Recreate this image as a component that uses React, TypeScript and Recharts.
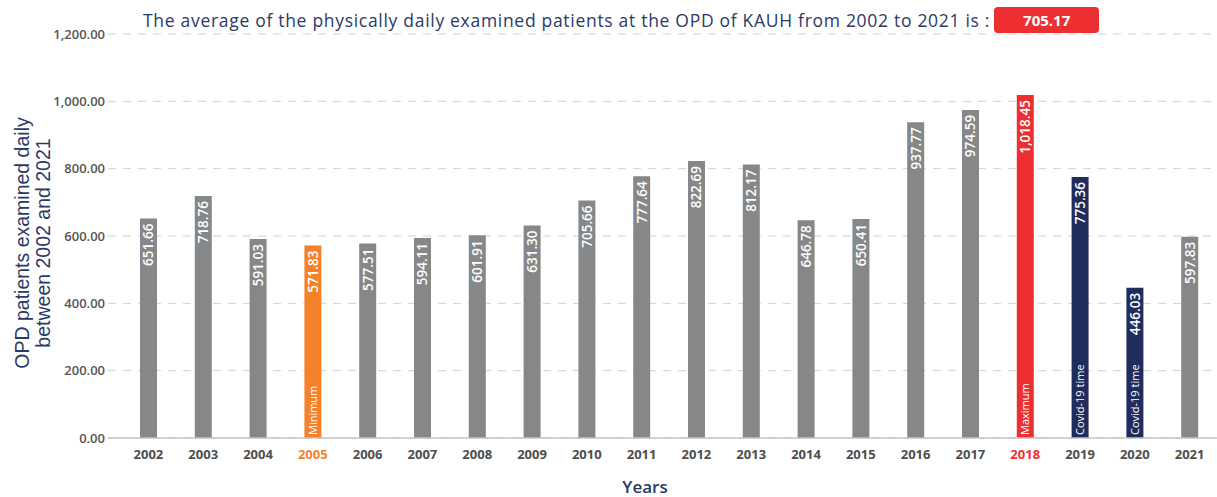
import React from 'react';
import { BarChart, Bar, XAxis, YAxis, CartesianGrid, Cell, LabelList, Label } from 'recharts';

const years = ['2002', '2003', '2004', '2005', '2006', '2007', '2008', '2009', '2010', '2011',
  '2012', '2013', '2014', '2015', '2016', '2017', '2018', '2019', '2020', '2021'];
const patients = [651.66, 718.76, 591.03, 571.83, 577.51, 594.11, 601.91, 631.30, 705.66, 777.64,
  822.69, 812.17, 646.78, 650.41, 937.77, 974.59, 1018.45, 775.36, 446.03, 597.83];
// note shown at the bottom of some bars
const notes: Record<string, string> = {
  '2005': 'Minimum',
  '2018': 'Maximum',
  '2019': 'Covid-19 time',
  '2020': 'Covid-19 time',
};
const yTicks = [0, 200, 400, 600, 800, 1000, 1200];

const GREY = '#858789';
const ORANGE = '#f5822a';
const RED = '#ee2f31';
const NAVY = '#1f2c5c';
const TEXT_NAVY = '#2b3a67';

const barColor = (year: string) => {
  if (year === '2005') return ORANGE;
  if (year === '2018') return RED;
  if (year === '2019' || year === '2020') return NAVY;
  return GREY;
};
const tickColor = (year: string) => (year === '2005' ? ORANGE : year === '2018' ? RED : '#4d4d4d');

const data = years.map((y, i) => ({ year: y, value: patients[i], note: notes[y] ?? '' }));
const average = patients.reduce((a, b) => a + b, 0) / patients.length;

const fmt = (v: number) =>
  v.toLocaleString('en-US', { minimumFractionDigits: 2, maximumFractionDigits: 2 });

const FONT = '"Open Sans", sans-serif';
const LABEL_FONT = '"Liberation Sans", Arial, sans-serif';

const XTick = ({ x, y, payload }: any) => (
  <text x={x} y={y + 13} textAnchor="middle" fill={tickColor(payload.value)}
    fontSize={13} fontWeight={700} fontFamily={FONT}>
    {payload.value}
  </text>
);

const ValueLabel = ({ x, y, width, value }: any) => {
  const cx = x + width / 2;
  const top = y + 5;
  return (
    <text x={cx} y={top} transform={`rotate(-90 ${cx} ${top})`} textAnchor="end" dy={5}
      fill="#fff" fontSize={13.5} fontWeight={600} fontFamily={FONT}>
      {fmt(value)}
    </text>
  );
};

const NoteLabel = ({ x, y, width, height, value }: any) => {
  if (!value) return null;
  const cx = x + width / 2;
  const bottom = y + height - 3;
  return (
    <text x={cx} y={bottom} transform={`rotate(-90 ${cx} ${bottom})`} textAnchor="start" dy={4}
      fill="#fff" fontSize={11} fontFamily={FONT}>
      {value}
    </text>
  );
};

export default function App() {
  return (
    <div style={{ position: 'absolute', left: 0, top: 0, width: 1217, height: 497, background: '#fff', fontFamily: FONT }}>
      <BarChart width={1217} height={497} data={data}
        margin={{ top: 34, right: 0, left: 0, bottom: 29 }}>
        <CartesianGrid vertical={false} stroke="#d2d2d2" strokeDasharray="8 7" />
        <XAxis dataKey="year" tick={<XTick />} tickLine={false} axisLine={{ stroke: '#c4c4c4', strokeWidth: 1.5 }}
          padding={{ left: 13, right: 0 }} interval={0} height={30}>
          <Label content={() => (
            <text x={645} y={493} textAnchor="middle" fill={TEXT_NAVY} fontSize={17} fontWeight={600}
              fontFamily={FONT}>Years</text>
          )} />
        </XAxis>
        <YAxis domain={[0, 1200]} ticks={yTicks} width={108} tickLine={false} axisLine={false}
          tickSize={0} tickMargin={3} tickFormatter={fmt}
          tick={{ fill: '#555', fontSize: 13, fontWeight: 600, fontFamily: FONT }}>
          <Label content={() => (
            <g fontFamily={LABEL_FONT} fontSize={19.5} fill={TEXT_NAVY} textAnchor="middle">
              <text x={29} y={243} transform="rotate(-90 29 243)">OPD patients examined daily</text>
              <text x={50} y={243} transform="rotate(-90 50 243)">between 2002 and 2021</text>
            </g>
          )} />
        </YAxis>
        <Bar dataKey="value" barSize={17} isAnimationActive={false}>
          {data.map(d => (
            <Cell key={d.year} fill={barColor(d.year)} />
          ))}
          <LabelList dataKey="value" content={<ValueLabel />} />
          <LabelList dataKey="note" content={<NoteLabel />} />
        </Bar>
      </BarChart>
      <div style={{ position: 'absolute', top: 7, left: 143, height: 26, display: 'flex', alignItems: 'center', whiteSpace: 'nowrap' }}>
        <span style={{ color: TEXT_NAVY, fontSize: 17.5, fontWeight: 500, letterSpacing: 0.7 }}>
          The average of the physically daily examined patients at the OPD of KAUH from 2002 to 2021 is :
        </span>
        <span style={{ marginLeft: 4, background: RED, color: '#fff', fontWeight: 700, fontSize: 15,
          width: 105, height: 26, borderRadius: 4, display: 'flex', alignItems: 'center', justifyContent: 'center' }}>
          {average.toFixed(2)}
        </span>
      </div>
    </div>
  );
}
